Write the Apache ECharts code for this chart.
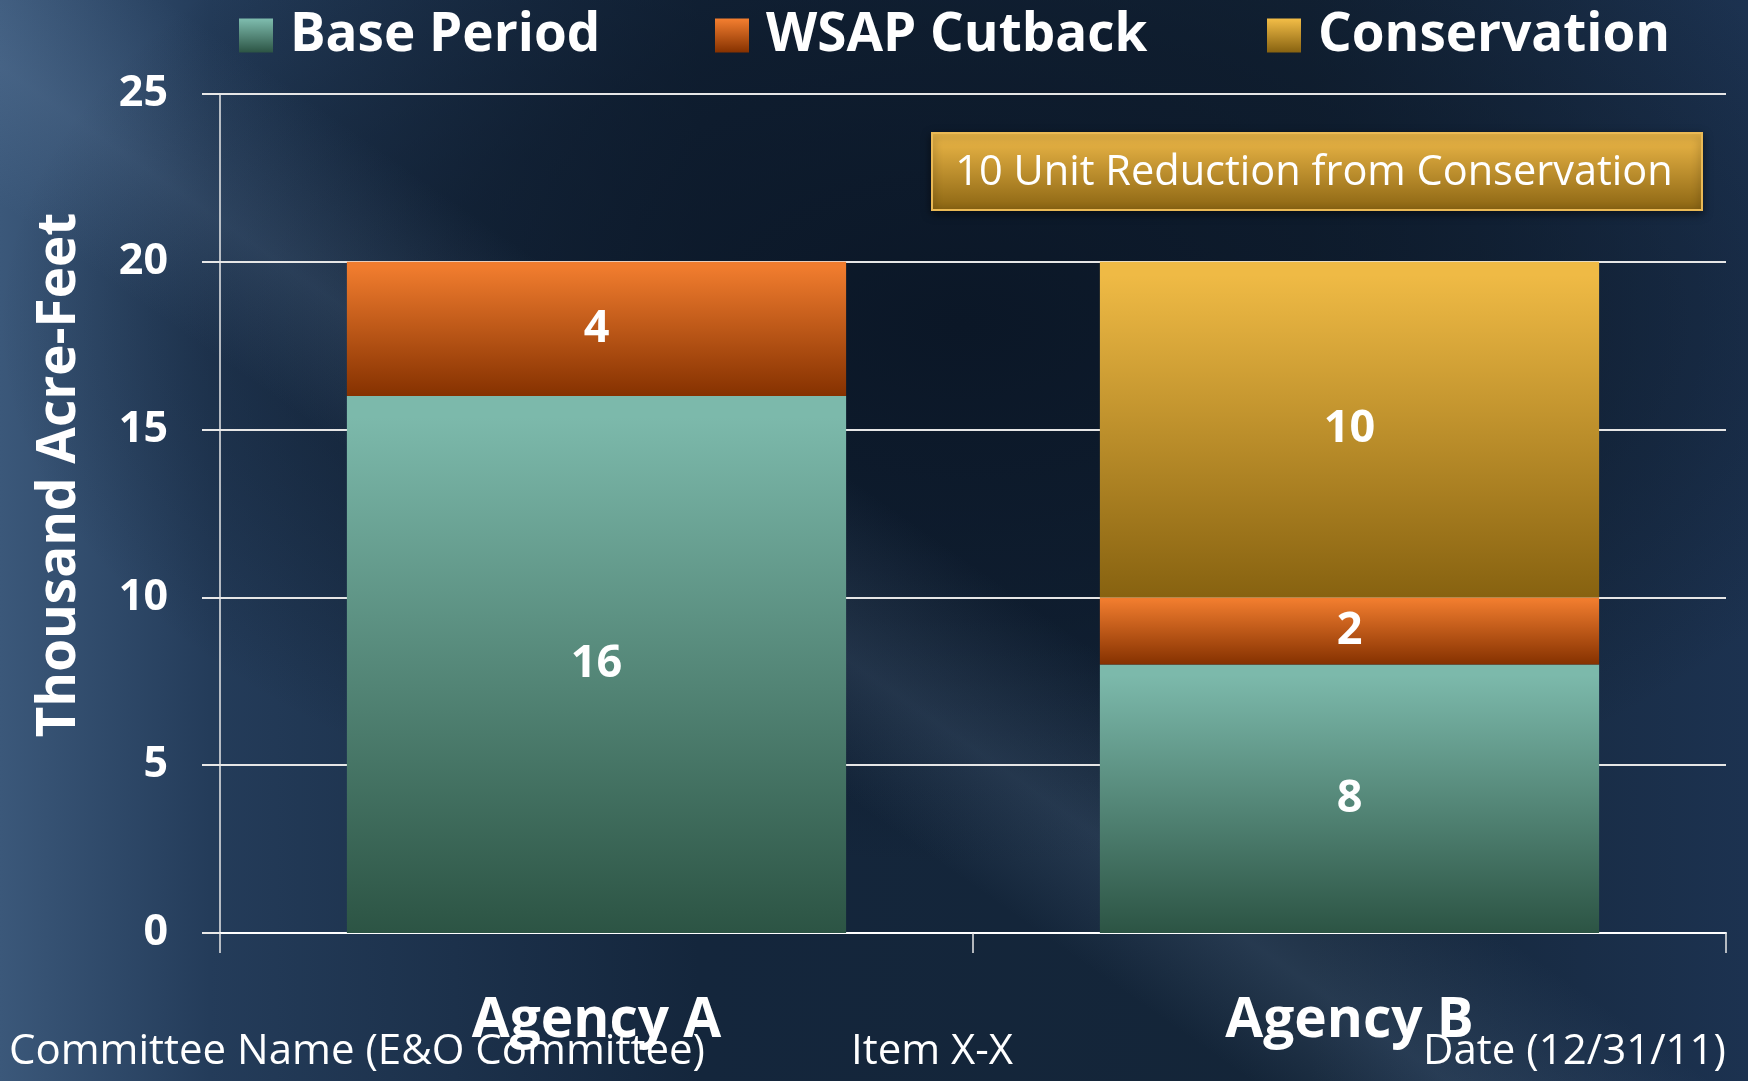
<!DOCTYPE html>
<html>
<head>
<meta charset="utf-8">
<script src="https://cdn.jsdelivr.net/npm/echarts@6/dist/echarts.min.js"></script>
<style>
html,body{margin:0;padding:0;width:1748px;height:1081px;overflow:hidden;}
body{
 background:
  linear-gradient(35deg, rgba(255,255,255,0) 38%, rgba(120,150,185,0.18) 44%, rgba(255,255,255,0) 52%),
  radial-gradient(ellipse 55% 50% at 55% 30%, #0b1727 0%, rgba(11,23,39,0.6) 55%, rgba(11,23,39,0) 100%),
  linear-gradient(90deg, #3b587a 0%, #243c5a 12%, #14263c 40%, #142538 75%, #1c3250 100%);
}
#chart{width:1748px;height:1081px;}
</style>
</head>
<body>
<div id="chart"></div>
<script>
const categories = ['Agency A', 'Agency B'];
const basePeriod = [16, 8];
const wsapCutback = [4, 2];
const conservation = [null, 10];
const yTicks = { min: 0, max: 25, interval: 5 };
const annotationText = '10 Unit Reduction from Conservation';
const yTitle = 'Thousand Acre-Feet';
const footer = ['Committee Name (E&O Committee)', 'Item X-X', 'Date (12/31/11)'];

const FONT = '"Open Sans", "Noto Sans", sans-serif';
function grad(top, bottom) {
  return new echarts.graphic.LinearGradient(0, 0, 0, 1, [
    { offset: 0, color: top }, { offset: 0.04, color: top }, { offset: 1, color: bottom }
  ]);
}
const cBase = grad('#7cb9ab', '#2c5444');
const cWsap = grad('#f07c2e', '#853100');
const cCons = grad('#efba45', '#876210');

const labelStyle = {
  show: true, position: 'inside', color: '#fff', fontFamily: FONT,
  fontWeight: 'bold', fontSize: 45,
  formatter: p => (p.value == null ? '' : p.value)
};

const chart = echarts.init(document.getElementById('chart'), null, { renderer: 'canvas' });
function legendItem(name, left) {
  return {
    data: [name], left: left, top: 4, itemWidth: 34, itemHeight: 34,
    icon: 'rect', selectedMode: false,
    textStyle: { color: '#fff', fontFamily: FONT, fontWeight: 'bold', fontSize: 53, padding: [0, 0, 0, 12] }
  };
}
chart.setOption({
  backgroundColor: 'transparent',
  animation: false,
  legend: [legendItem('Base Period', 234), legendItem('WSAP Cutback', 710), legendItem('Conservation', 1262)],
  grid: { left: 220, right: 22, top: 94, bottom: 148, containLabel: false },
  xAxis: {
    type: 'category', data: categories,
    axisLine: { lineStyle: { color: '#ffffff', width: 2 } },
    axisTick: { show: true, length: 20, lineStyle: { color: '#e8e8e8', width: 1.5 } },
    axisLabel: { color: '#fff', fontFamily: FONT, fontWeight: 'bold', fontSize: 55, margin: 88, verticalAlign: 'middle' }
  },
  yAxis: {
    type: 'value', min: yTicks.min, max: yTicks.max, interval: yTicks.interval,
    axisLine: { show: true, lineStyle: { color: '#e8e8e8', width: 1.5 } },
    axisTick: { show: true, length: 18, lineStyle: { color: '#e8e8e8', width: 2 } },
    splitLine: { show: true, lineStyle: { color: '#e6e6e6', width: 2 } },
    axisLabel: { color: '#fff', fontFamily: FONT, fontWeight: 'bold', fontSize: 43, margin: 52 }
  },
  series: [
    { name: 'Base Period', type: 'bar', stack: 's', barWidth: '66.3%', data: basePeriod,
      itemStyle: { color: cBase }, label: labelStyle },
    { name: 'WSAP Cutback', type: 'bar', stack: 's', data: wsapCutback,
      itemStyle: { color: cWsap }, label: labelStyle },
    { name: 'Conservation', type: 'bar', stack: 's', data: conservation,
      itemStyle: { color: cCons }, label: labelStyle }
  ],
  graphic: [
    { type: 'rect', shape: { x: 932, y: 133, width: 770, height: 77 },
      style: { fill: new echarts.graphic.LinearGradient(0, 0, 0, 1, [{ offset: 0, color: '#f1bb4a' }, { offset: 1, color: '#8a6412' }]),
               stroke: '#eab955', lineWidth: 2, shadowBlur: 8, shadowColor: 'rgba(0,0,0,0.5)', shadowOffsetY: 3 } },
    { type: 'text', x: 1314, y: 173,
      style: { text: annotationText, fill: '#fff', font: '41.5px ' + FONT, textAlign: 'center', textVerticalAlign: 'middle' } },
    { type: 'text', x: 60, y: 475, rotation: Math.PI / 2,
      style: { text: yTitle, fill: '#fff', font: 'bold 53px ' + FONT, textAlign: 'center', textVerticalAlign: 'middle' } },
    { type: 'text', x: 9, y: 1052,
      style: { text: footer[0], fill: '#fff', font: '42px ' + FONT, textAlign: 'left', textVerticalAlign: 'middle' } },
    { type: 'text', x: 851, y: 1052,
      style: { text: footer[1], fill: '#fff', font: '42px ' + FONT, textAlign: 'left', textVerticalAlign: 'middle' } },
    { type: 'text', x: 1726, y: 1052,
      style: { text: footer[2], fill: '#fff', font: '42px ' + FONT, textAlign: 'right', textVerticalAlign: 'middle' } }
  ]
});
</script>
</body>
</html>
